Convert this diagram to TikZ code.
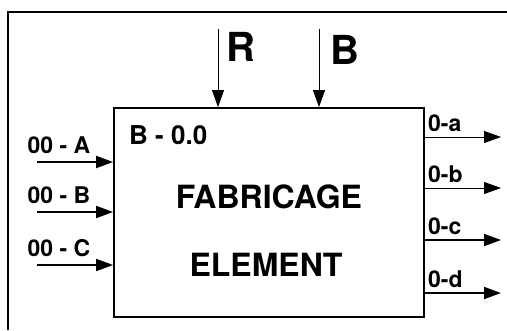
\documentclass[tikz,border=0pt]{standalone}
\usepackage{fontspec}
\setmainfont{TeX Gyre Heros}
\usetikzlibrary{arrows.meta}

\begin{document}
\begin{tikzpicture}
[
	x=1pt,y=-1pt,
	box/.style={draw,line width=1.8pt,inner sep=0pt,minimum width=310pt,minimum height=209pt},
	flow/.style={-{Triangle[length=17pt,width=12pt]},line width=1.8pt},
	thinflow/.style={flow,line width=0.8pt},
	lbl/.style={font=\bfseries\fontsize{23}{23}\selectfont,inner sep=0pt},
	biglbl/.style={font=\bfseries\fontsize{32}{32}\selectfont,inner sep=0pt}
]

	\useasboundingbox (0,0) rectangle (507,330);

	% frame
	\draw[line width=1.4pt] (8,330) -- (8,12) -- (507,12);

	% element
	\node[box] (elem) at (269,212.5) {};
	\node[font=\bfseries\fontsize{26}{26}\selectfont,inner sep=0pt,anchor=west] (code) at (129,135) {B - 0.0};
	\node[biglbl] (name1) at (269,197) {FABRICAGE};
	\node[biglbl] (name2) at (266,265) {ELEMENT};

	% controls
	\coordinate (rin) at (218,29);
	\coordinate (bin) at (319,29);
	\draw[thinflow] (rin) -- (rin |- elem.north);
	\draw[thinflow] (bin) -- (bin |- elem.north);
	\node[font=\bfseries\fontsize{40}{40}\selectfont,inner sep=0pt] (rlbl) at (241,47) {R};
	\node[font=\bfseries\fontsize{40}{40}\selectfont,inner sep=0pt] (blbl) at (345,50) {B};

	% inputs
	\foreach \n/\y in {A/162,B/212,C/265} {
		\coordinate (in\n) at (37,\y);
		\draw[flow] (in\n) -- (in\n -| elem.west);
		\node[lbl] (lbl\n) at (59,\y-17) {00 - \n};
	}

	% outputs
	\foreach \n/\y/\w in {a/137/0.8pt,b/188/0.8pt,c/240/1.8pt,d/293/1.8pt} {
		\coordinate (out\n) at (501,\y);
		\draw[flow,line width=\w] (out\n -| elem.east) -- (out\n);
		\node[lbl,anchor=west] (lbl\n) at (428,\y-14) {0-\n};
	}

\end{tikzpicture}
\end{document}
